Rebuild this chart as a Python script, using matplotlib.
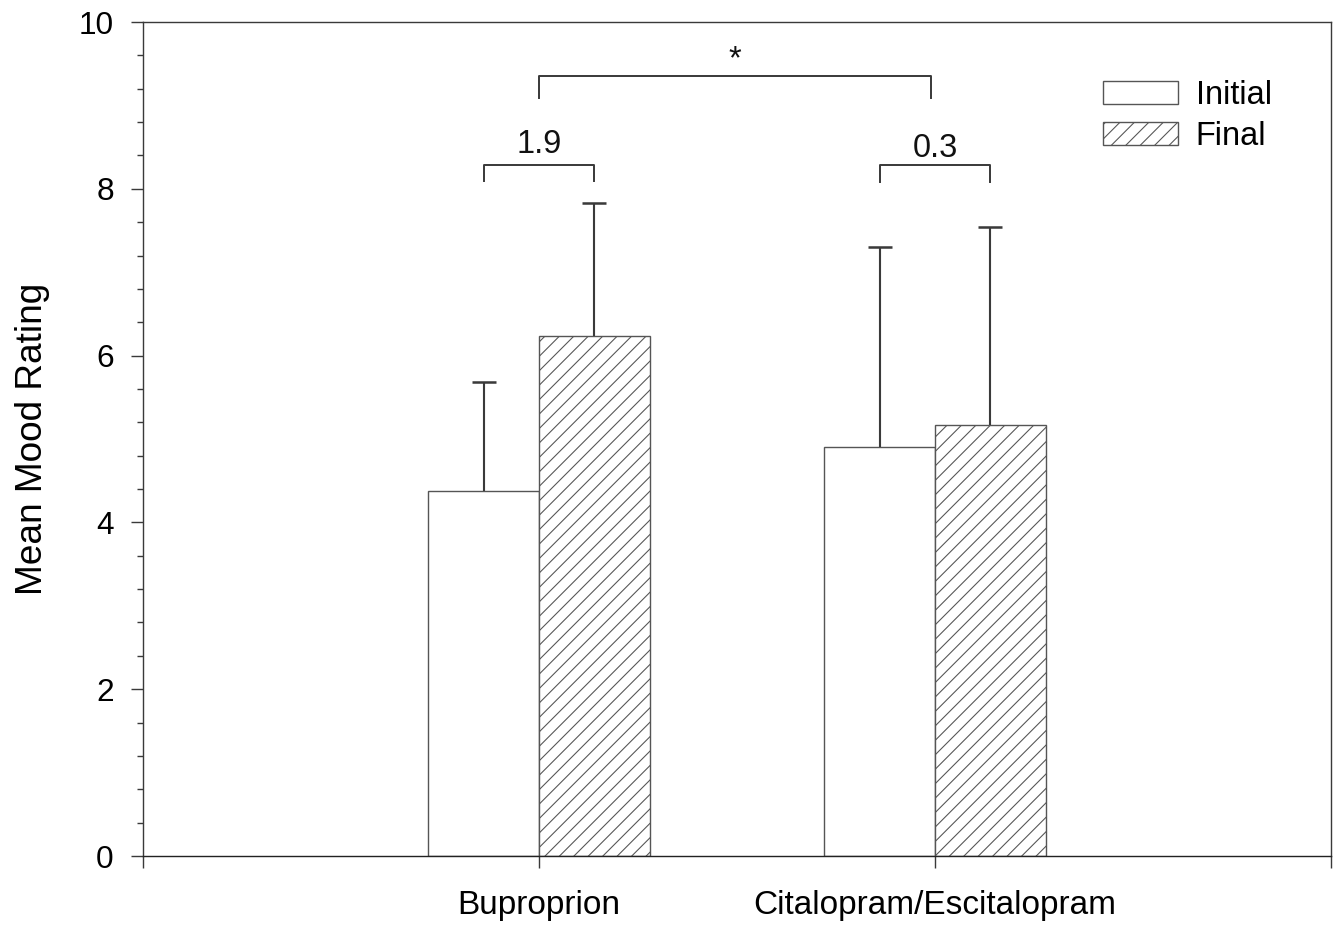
import matplotlib
matplotlib.use("Agg")
import matplotlib.pyplot as plt
import numpy as np

plt.rcParams['font.family'] = ['Liberation Sans', 'DejaVu Sans']
plt.rcParams['hatch.linewidth'] = 0.6

groups = ["Buproprion", "Citalopram/Escitalopram"]
series = ["Initial", "Final"]
initial_mean = [4.38, 4.90]
final_mean = [6.24, 5.17]
initial_sd = [1.30, 2.40]
final_sd = [1.59, 2.37]
diff_labels = ["1.9", "0.3"]
sig_label = "*"

DPI = 130
fig = plt.figure(figsize=(1342 / DPI, 927 / DPI), dpi=DPI)
ax = fig.add_axes([143 / 1342, 1 - 856 / 927, (1331 - 143) / 1342, (856 - 22) / 927])

lc = '#3a3a3a'
ec = '#555555'
lw_px = 1.4
lw = lw_px * 72 / DPI

x = np.array([1.0, 2.0])
w = 0.28
ax.bar(x - w / 2, initial_mean, w, color='white', edgecolor=ec, linewidth=lw, label=series[0])
ax.bar(x + w / 2, final_mean, w, color='white', edgecolor=ec, hatch='///', linewidth=lw, label=series[1])

cap = 12 * 72 / DPI
for xs, m, sd in [(x - w / 2, initial_mean, initial_sd), (x + w / 2, final_mean, final_sd)]:
    eb = ax.errorbar(xs, m, yerr=[np.zeros(2), sd], fmt='none',
                     ecolor=lc, elinewidth=lw * 1.5, capsize=cap, capthick=lw * 1.8)
    caps = eb[1]
    if len(caps) == 2:
        caps[0].set_visible(False)

fs = 18


def bracket(x0, x1, ytop, ybot, label, ty, size):
    ax.plot([x0, x0, x1, x1], [ybot, ytop, ytop, ybot], color=lc, lw=lw * 1.4,
            solid_joinstyle='round', clip_on=False)
    ax.text((x0 + x1) / 2, ty, label, ha='center', va='bottom', fontsize=size, color='#111111')


bracket(1 - w / 2, 1 + w / 2, 8.29, 8.09, diff_labels[0], 8.35, fs)
bracket(2 - w / 2, 2 + w / 2, 8.28, 8.08, diff_labels[1], 8.30, fs)
bracket(1.0, 1.99, 9.35, 9.09, sig_label, 9.36, fs)

ax.set_xlim(0, 3)
ax.set_ylim(0, 10)
ax.set_xticks([0, 1, 2, 3])
ax.set_xticklabels(["", groups[0], groups[1], ""], fontsize=18.5)
ax.set_yticks([0, 2, 4, 6, 8, 10])
ax.set_yticks(np.arange(0, 10.01, 0.4), minor=True)
ax.tick_params(axis='y', which='major', length=12 * 72 / DPI, width=lw, labelsize=17.5, color=lc, pad=9.5)
ax.tick_params(axis='y', which='minor', length=6 * 72 / DPI, width=lw, color=lc)
ax.tick_params(axis='x', which='major', length=12 * 72 / DPI, width=lw, color=lc, pad=12)
ax.tick_params(axis='both', direction='out')
for s in ax.spines.values():
    s.set_color(lc)
    s.set_linewidth(lw)
ax.spines['bottom'].set_color('#222222')

ax.set_ylabel("Mean Mood Rating", fontsize=20.5, labelpad=16)

leg = ax.legend(loc='upper left', bbox_to_anchor=(1103 / 1342, 1 - 80 / 927),
                bbox_transform=fig.transFigure, frameon=False, fontsize=fs,
                handlelength=2.3, handleheight=0.72, handletextpad=0.55,
                labelspacing=0.30, borderpad=0, borderaxespad=0)

fig.savefig("out.png", dpi=DPI)
